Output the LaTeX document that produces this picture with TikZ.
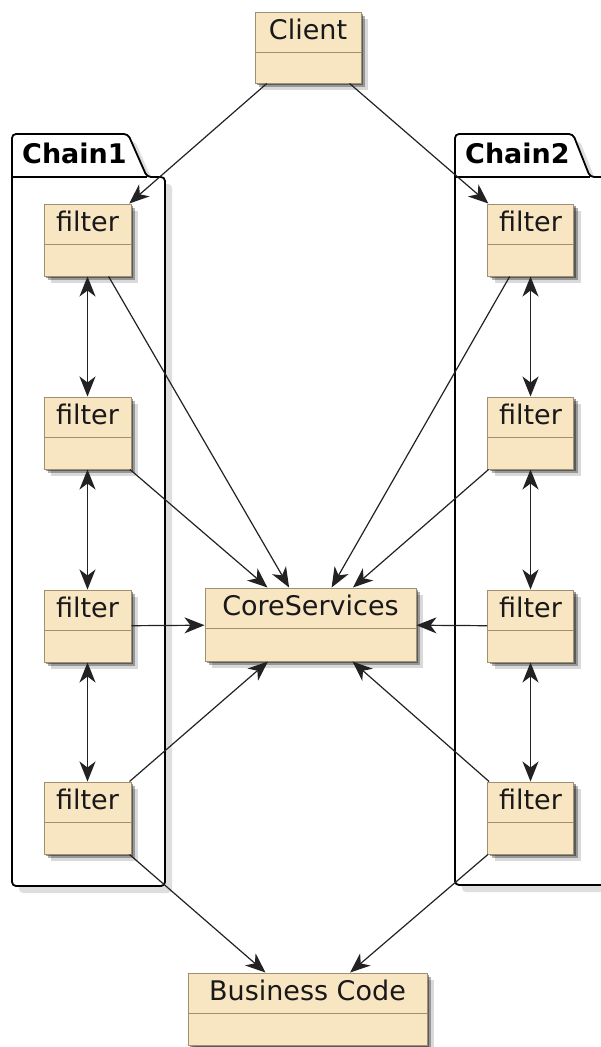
\documentclass[tikz,border=0pt]{standalone}
\usepackage{fontspec}
\setmainfont{DejaVu Sans}
\usetikzlibrary{arrows.meta,shadows}

\definecolor{boxfill}{HTML}{F8E5C2}
\definecolor{boxline}{HTML}{A08F70}
\definecolor{wire}{HTML}{222222}

\tikzset{
  classbox/.style={rectangle, draw=boxline, line width=1pt, fill=boxfill, inner sep=0pt,
    drop shadow={shadow xshift=2pt, shadow yshift=-2pt, opacity=0.40, fill=black},
    drop shadow={shadow xshift=4pt, shadow yshift=-4pt, opacity=0.30, fill=black},
    drop shadow={shadow xshift=7pt, shadow yshift=-7pt, opacity=0.15, fill=black}},
  classtitle/.style={font=\fontsize{27}{32}\selectfont, text=black!90, inner sep=0pt, anchor=base},
  divider/.style={draw=boxline, line width=1pt},
  pkg/.style={draw=black, line width=1.8pt, fill=white, rounded corners=4pt,
    drop shadow={shadow xshift=7pt, shadow yshift=-7pt, opacity=1, fill=black!13}},
  pkgline/.style={draw=black, line width=1.8pt},
  pkgtitle/.style={font=\bfseries\fontsize{27}{32}\selectfont, inner sep=0pt, anchor=base west},
  wireto/.style={draw=wire, line width=1.2pt, -{Stealth[length=20pt, width=16pt, inset=6pt]}},
  wireboth/.style={draw=wire, line width=1.2pt,
    {Stealth[length=20pt, width=16pt, inset=6pt]}-{Stealth[length=20pt, width=16pt, inset=6pt]}},
}

% name, centre x, centre y, width, height, title
\newcommand\umlclass[6]{%
  \node[classbox, minimum width=#4pt, minimum height=#5pt] (#1) at (#2,#3) {};
  \node[classtitle] (#1-title) at ([yshift=-28pt]#1.north) {#6};
  \draw[divider] ([yshift=-40.5pt]#1.north west) -- ([yshift=-40.5pt]#1.north east);
}

\begin{document}
\begin{tikzpicture}[x=1pt, y=-1pt]
  \useasboundingbox (0,0) rectangle (601,1047);
  \clip (0,0) rectangle (601,1047);

  % packages
  \draw[pkg] (12,177) -- (12,134) -- (128,134) -- (147,177) -- (165,177) -- (165,886) -- (12,886) -- cycle;
  \draw[pkgline] (12,177) -- (147,177);
  \node[pkgtitle] (chain1) at (22,163) {Chain1};

  \draw[pkg] (455,177) -- (455,134) -- (573,134) -- (590,177) -- (640,177) -- (640,885) -- (455,885) -- cycle;
  \draw[pkgline] (455,177) -- (590,177);
  \node[pkgtitle] (chain2) at (465,163) {Chain2};

  % classes
  \umlclass{client}{308}{47.5}{106}{71}{Client}
  \umlclass{core}{310.5}{624.5}{211}{73}{CoreServices}
  \umlclass{biz}{307.5}{1009}{239}{72}{Business Code}

  \umlclass{la}{87.5}{240}{87}{72}{filter}
  \umlclass{lb}{87.5}{433}{87}{72}{filter}
  \umlclass{lc}{87.5}{626}{87}{72}{filter}
  \umlclass{ld}{87.5}{818}{87}{72}{filter}

  \umlclass{ra}{530.5}{240}{86}{72}{filter}
  \umlclass{rb}{530.5}{433}{86}{72}{filter}
  \umlclass{rc}{530.5}{626}{86}{72}{filter}
  \umlclass{rd}{530.5}{818}{86}{72}{filter}

  % connectors
  \draw[wireto] (client) -- (la);
  \draw[wireto] (client) -- (ra);

  \draw[wireboth] (la) -- (lb);
  \draw[wireboth] (lb) -- (lc);
  \draw[wireboth] (lc) -- (ld);
  \draw[wireboth] (ra) -- (rb);
  \draw[wireboth] (rb) -- (rc);
  \draw[wireboth] (rc) -- (rd);

  \draw[wireto] (la) -- (core);
  \draw[wireto] (lb) -- (core);
  \draw[wireto] (lc) -- (core);
  \draw[wireto] (ld) -- (core);
  \draw[wireto] (ra) -- (core);
  \draw[wireto] (rb) -- (core);
  \draw[wireto] (rc) -- (core);
  \draw[wireto] (rd) -- (core);

  \draw[wireto] (ld) -- (biz);
  \draw[wireto] (rd) -- (biz);
\end{tikzpicture}
\end{document}
